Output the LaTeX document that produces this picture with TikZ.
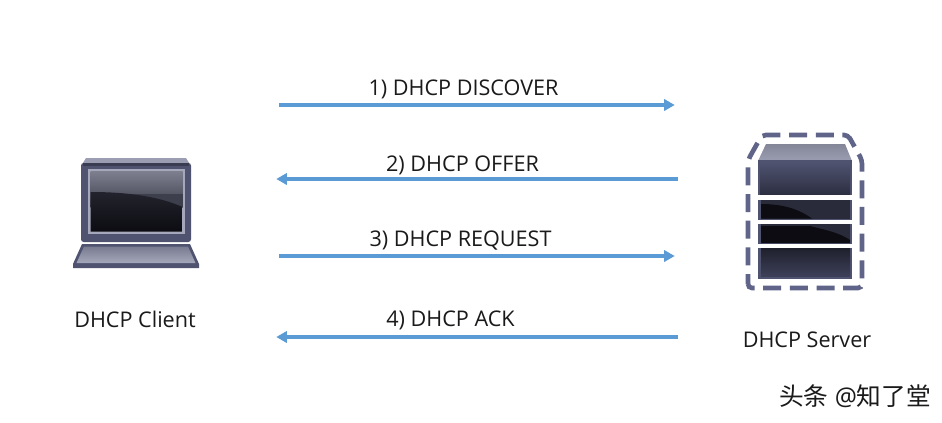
\documentclass[tikz,border=0pt]{standalone}
\usepackage{fontspec}
\setmainfont{Open Sans}
\newfontfamily\cjk{Noto Sans CJK SC}
\usetikzlibrary{arrows.meta}
\definecolor{arrowblue}{HTML}{5B9BD5}
\definecolor{frame}{HTML}{4F5370}
\definecolor{framedark}{HTML}{3A3C52}
\definecolor{dashc}{HTML}{5F6488}
\definecolor{lidtop}{HTML}{9B9EB2}
\definecolor{basec}{HTML}{8E91A9}
\definecolor{screenhi}{HTML}{7E8090}
\definecolor{screenmid}{HTML}{3E3F4C}
\definecolor{screenlo}{HTML}{22232C}
\definecolor{nearblack}{HTML}{0C0C12}
\definecolor{bandlo}{HTML}{2A2B3A}
\definecolor{bodyhi}{HTML}{3D4058}
\definecolor{bodylo}{HTML}{2C2E40}
\definecolor{textc}{HTML}{1A1A1A}
\tikzset{
  msg/.style={draw=arrowblue,line width=2.5pt,-{Triangle[length=8pt,width=8.5pt]}},
  lbl/.style={inner sep=0pt,text=textc,font=\fontsize{16.2pt}{18pt}\selectfont,anchor=center},
  endpt/.style={inner sep=0pt,minimum size=0pt}
}
\begin{document}
\begin{tikzpicture}[x=0.75pt,y=-0.75pt]
\useasboundingbox (0,0) rectangle (942,422);
\fill[white] (0,0) rectangle (942,422);
% laptop
\fill[lidtop] (81,166) -- (86,158) -- (186,158) -- (191,166) -- cycle;
\fill[rounded corners=2pt,frame] (81,163) rectangle (191,242);
\fill[framedark] (83,163) rectangle (189,166);
\fill[lidtop!90!white] (88,169) rectangle (185,234);
\shade[top color=screenhi,bottom color=screenmid] (90.5,171) rectangle (182.5,207);
\fill[screenmid] (90.5,194) rectangle (182.5,207);
\shade[top color=screenlo,bottom color=nearblack] (90.5,192) .. controls (130,192) and (160,197) .. (182.5,207) -- (182.5,231.5) -- (90.5,231.5) -- cycle;
\fill[frame] (82,244) -- (190,244) -- (199,264) -- (199,268) -- (73,268) -- (73,264) -- cycle;
\shade[top color=basec!85!black,bottom color=basec!80!white] (84,246.5) -- (188,246.5) -- (195.5,263) -- (76.5,263) -- cycle;
% server
\shade[top color=lidtop!85!black,bottom color=lidtop] (766,144) -- (845,144) -- (852,161) -- (758,161) -- cycle;
\fill[frame] (758,160) rectangle (852,279);
\fill[top color=frame,bottom color=bodylo] (760,162) rectangle (850,195);
\fill[bandlo] (761,200) rectangle (850,219);
\fill[nearblack] (761,204) .. controls (785,204) and (800,210) .. (812,218.5) -- (761,218.5) -- cycle;
\fill[bandlo] (761,224) rectangle (850,243);
\fill[nearblack] (761,226) -- (810,226) .. controls (825,230) and (838,232) .. (850,240) -- (850,243) -- (761,243) -- cycle;
\fill[top color=bodylo!70!black,bottom color=bodyhi] (761,248) rectangle (850,276);
\fill[white] (758,195) rectangle (852,200);
\fill[white] (758,219.5) rectangle (852,224);
\fill[white] (758,243.5) rectangle (852,248);
\draw[dashc,line width=3.5pt,dash pattern=on 13.5pt off 6.5pt,dash phase=6pt,rounded corners=3pt]
  (748,288) -- (748,160) -- (762,135) -- (848,135) -- (862,160) -- (862,288) -- cycle;
% anchors
\node[endpt] (c1) at (279,105) {}; \node[endpt] (s1) at (675,105) {};
\node[endpt] (s2) at (678,179) {}; \node[endpt] (c2) at (276,179) {};
\node[endpt] (c3) at (279,256) {}; \node[endpt] (s3) at (675,256) {};
\node[endpt] (s4) at (678,337) {}; \node[endpt] (c4) at (276,337) {};
\draw[msg] (c1) -- (s1);
\draw[msg] (s2) -- (c2);
\draw[msg] (c3) -- (s3);
\draw[msg] (s4) -- (c4);
% labels
\node[lbl] (l1) at (463.5,89.5) {1) DHCP DISCOVER};
\node[lbl] (l2) at (462.5,165.5) {2) DHCP OFFER};
\node[lbl] (l3) at (460.5,240.5) {3) DHCP REQUEST};
\node[lbl] (l4) at (450.5,320.5) {4) DHCP ACK};
\node[lbl] (client) at (135,319.5) {DHCP Client};
\node[lbl] (server) at (807,339.5) {DHCP Server};
\node[inner sep=0pt,text=textc,font=\fontsize{18.5pt}{20pt}\selectfont] (mark) at (855,396.5) {{\cjk 头条} @{\cjk 知了堂}};
\end{tikzpicture}
\end{document}
